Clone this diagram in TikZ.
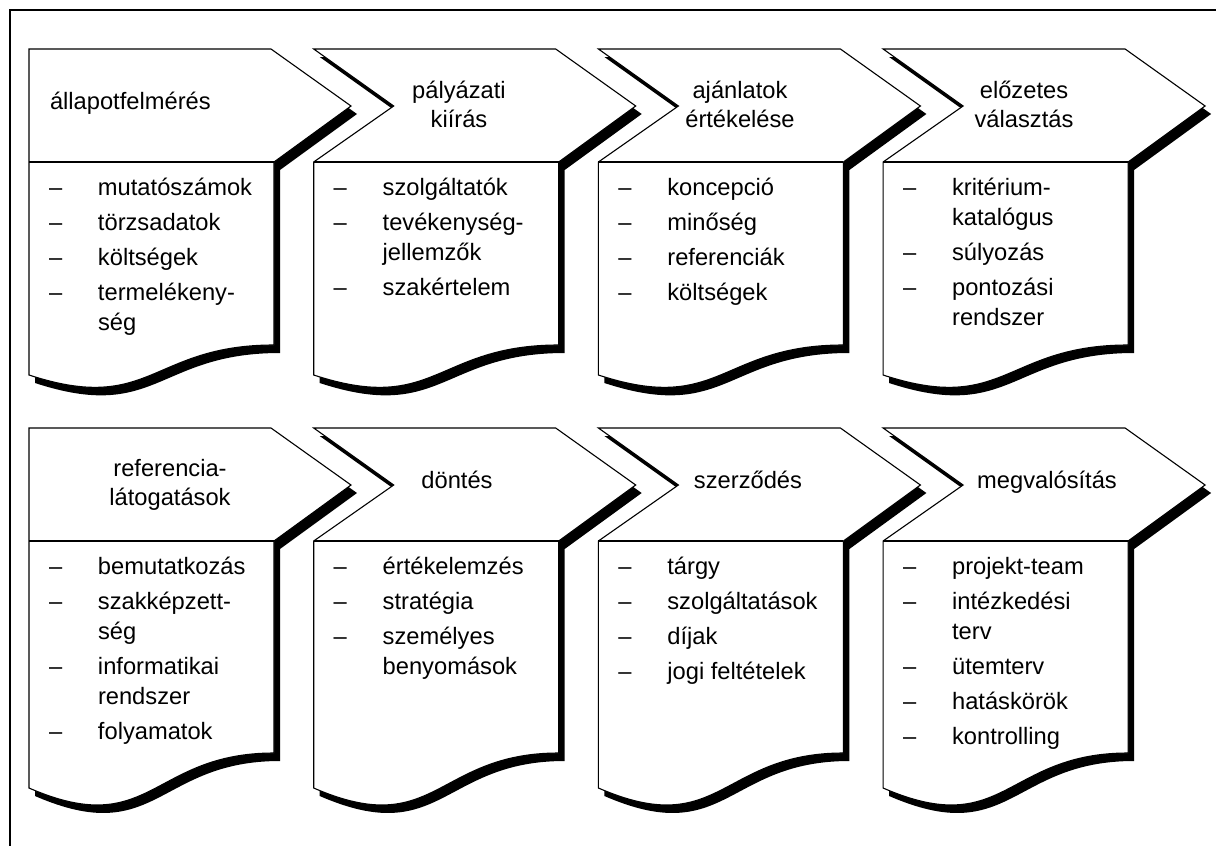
\documentclass[tikz,border=0pt]{standalone}
\usepackage{fontspec}
\setmainfont{Liberation Sans}
% one list item: dash, then the text in its own column
\newcommand{\itm}[1]{\makebox[49pt][l]{–}#1}
\newcommand{\cont}[1]{\hspace*{49pt}#1}
\begin{document}
\begin{tikzpicture}[x=1pt,y=-1pt,
  stageline/.style={draw=black,line width=1.1pt,fill=white,line join=miter},
  stageshadow/.style={fill=black},
  txt/.style={inner sep=0pt,outer sep=0pt,font=\fontsize{23.7}{30}\selectfont},
  hdtxt/.style={txt,font=\fontsize{23.7}{29}\selectfont},
  frame/.style={draw=black,line width=2pt}]
\useasboundingbox (0,0) rectangle (1216,846);
\clip (0,0) rectangle (1216,846);
\fill[white] (0,0) rectangle (1216,846);
\draw[frame] (10,10) rectangle (1240,870);

% stages: name / left x / top y / body bottom right / body bottom left / wave depth / notch depth
\foreach \nm/\x/\t/\r/\l/\d/\n in {
   s1/29/49/345/375/70/0, s2/313.7/49/345/375/70/80,
   s3/598.4/49/345/375/70/80, s4/883.1/49/345/375/70/80,
   s5/29/428/753/788/88/0, s6/313.7/428/753/788/88/80,
   s7/598.4/428/753/788/88/80, s8/883.1/428/753/788/88/80}{
  \fill[stageshadow,shift={(6,8)}] (\x,\t) -- (\x+242,\t) -- (\x+322,\t+57)
     -- (\x+245,\t+113) -- (\x+245,\r)
     .. controls (\x+122,\r) and (\x+122,\r+\d) .. (\x,\l)
     -- (\x,\t+113) -- (\x+\n,\t+57) -- cycle;
  \draw[stageline] (\x,\t) -- (\x+242,\t) -- (\x+322,\t+57)
     -- (\x+245,\t+113) -- (\x+245,\r)
     .. controls (\x+122,\r) and (\x+122,\r+\d) .. (\x,\l)
     -- (\x,\t+113) -- (\x+\n,\t+57) -- cycle;
  \draw[stageline] (\x,\t+113) -- (\x+245,\t+113);
  \coordinate (\nm) at (\x,\t);
}

% headings
\node[hdtxt,anchor=base west] (h1) at (50,109) {állapotfelmérés};
\node[hdtxt,anchor=base] (h2) at (459,98) {\begin{tabular}[t]{@{}c@{}}pályázati\\kiírás\end{tabular}};
\node[hdtxt,anchor=base] (h3) at (740,98) {\begin{tabular}[t]{@{}c@{}}ajánlatok\\értékelése\end{tabular}};
\node[hdtxt,anchor=base] (h4) at (1024,98) {\begin{tabular}[t]{@{}c@{}}előzetes\\választás\end{tabular}};
\node[hdtxt,anchor=base] (h5) at (170,476) {\begin{tabular}[t]{@{}c@{}}referencia-\\látogatások\end{tabular}};
\node[hdtxt,anchor=base] (h6) at (457,488) {döntés};
\node[hdtxt,anchor=base] (h7) at (748,488) {szerződés};
\node[hdtxt,anchor=base] (h8) at (1047,488) {megvalósítás};

% item lists
\node[txt,anchor=base west] (l1) at (49,195) {\begin{tabular}[t]{@{}l@{}}
  \itm{mutatószámok}\\[5pt] \itm{törzsadatok}\\[5pt] \itm{költségek}\\[5pt]
  \itm{termelékeny-}\\ \cont{ség}\end{tabular}};
\node[txt,anchor=base west] (l2) at (333.7,195) {\begin{tabular}[t]{@{}l@{}}
  \itm{szolgáltatók}\\[5pt] \itm{tevékenység-}\\ \cont{jellemzők}\\[5pt]
  \itm{szakértelem}\end{tabular}};
\node[txt,anchor=base west] (l3) at (618.4,195) {\begin{tabular}[t]{@{}l@{}}
  \itm{koncepció}\\[5pt] \itm{minőség}\\[5pt] \itm{referenciák}\\[5pt]
  \itm{költségek}\end{tabular}};
\node[txt,anchor=base west] (l4) at (903.1,195) {\begin{tabular}[t]{@{}l@{}}
  \itm{kritérium-}\\ \cont{katalógus}\\[5pt] \itm{súlyozás}\\[5pt]
  \itm{pontozási}\\ \cont{rendszer}\end{tabular}};
\node[txt,anchor=base west] (l5) at (49,574) {\begin{tabular}[t]{@{}l@{}}
  \itm{bemutatkozás}\\[5pt] \itm{szakképzett-}\\ \cont{ség}\\[5pt]
  \itm{informatikai}\\ \cont{rendszer}\\[5pt] \itm{folyamatok}\end{tabular}};
\node[txt,anchor=base west] (l6) at (333.7,574) {\begin{tabular}[t]{@{}l@{}}
  \itm{értékelemzés}\\[5pt] \itm{stratégia}\\[5pt]
  \itm{személyes}\\ \cont{benyomások}\end{tabular}};
\node[txt,anchor=base west] (l7) at (618.4,574) {\begin{tabular}[t]{@{}l@{}}
  \itm{tárgy}\\[5pt] \itm{szolgáltatások}\\[5pt] \itm{díjak}\\[5pt]
  \itm{jogi feltételek}\end{tabular}};
\node[txt,anchor=base west] (l8) at (903.1,574) {\begin{tabular}[t]{@{}l@{}}
  \itm{projekt-team}\\[5pt] \itm{intézkedési}\\ \cont{terv}\\[5pt]
  \itm{ütemterv}\\[5pt] \itm{hatáskörök}\\[5pt] \itm{kontrolling}\end{tabular}};
\end{tikzpicture}
\end{document}
